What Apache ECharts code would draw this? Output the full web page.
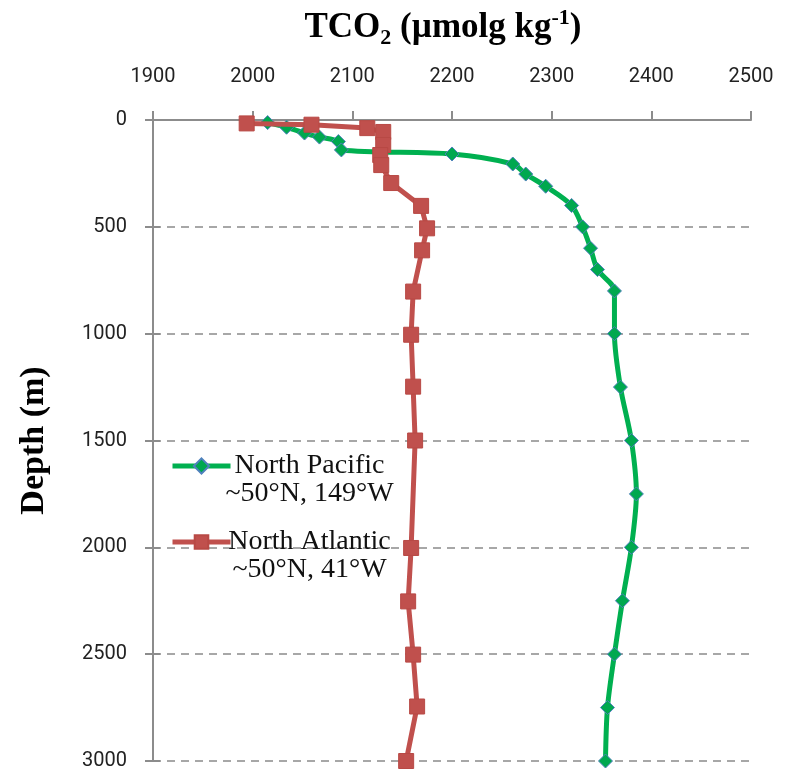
<!DOCTYPE html>
<html>
<head>
<meta charset="utf-8">
<script src="https://cdn.jsdelivr.net/npm/echarts@6/dist/echarts.min.js"></script>
<style>html,body{margin:0;padding:0;background:#fff}#c{width:794px;height:772px}</style>
</head>
<body>
<div id="c"></div>
<script>
const xTicks = [1900, 2000, 2100, 2200, 2300, 2400, 2500];
const yTicks = [0, 500, 1000, 1500, 2000, 2500, 3000];

const pacificName = 'North Pacific';
const pacificSub = '~50°N, 149°W';
const pacificDepth = [12, 34, 61, 80, 101, 140, 159, 206, 253, 310, 400, 500, 600, 700, 800, 1000, 1250, 1500, 1750, 2000, 2250, 2500, 2750, 3000];
const pacificTCO2  = [2015, 2034, 2052, 2067, 2086, 2089, 2200, 2261, 2274, 2294, 2320, 2331, 2339, 2346, 2363, 2363, 2369, 2380, 2385, 2380, 2371, 2363, 2356, 2354];

const atlanticName = 'North Atlantic';
const atlanticSub = '~50°N, 41°W';
const atlanticDepth = [16, 22, 38, 56, 117, 164, 211, 295, 402, 507, 610, 803, 1005, 1248, 1500, 2003, 2253, 2502, 2745, 3000];
const atlanticTCO2  = [1994, 2059, 2115, 2131, 2131, 2128, 2129, 2139, 2169, 2175, 2170, 2161, 2159, 2161, 2163, 2159, 2156, 2161, 2165, 2154];

const pacificData = pacificDepth.map((d, i) => [pacificTCO2[i], d]);
const atlanticData = atlanticDepth.map((d, i) => [atlanticTCO2[i], d]);

const labelFont = { fontFamily: 'Roboto', fontSize: 20, color: '#222', formatter: v => String(v) };
const axisGray = '#8c8c8c';

const legendRich = {
  e: { fontFamily: 'Liberation Serif', fontSize: 28, lineHeight: 28, width: 148, align: 'center', color: '#111' },
  a: { fontFamily: 'Liberation Serif', fontSize: 28, lineHeight: 28, width: 148, align: 'center', color: '#111' }
};
const legendFormatter = function (name) {
  const sub = name === pacificName ? pacificSub : atlanticSub;
  return '{e| }\n{a|' + name + '}\n{a|' + sub + '}';
};

const chart = echarts.init(document.getElementById('c'), null, { renderer: 'canvas' });
chart.setOption({
  animation: false,
  backgroundColor: '#fff',
  title: {
    text: '{a|TCO}{s|2}{a| (µmolg kg}{p|-1}{a|)}',
    left: 438, top: 2, textAlign: 'center',
    textStyle: {
      rich: {
        a: { fontFamily: 'Liberation Serif', fontWeight: 'bold', fontSize: 35, lineHeight: 42, color: '#000' },
        s: { fontFamily: 'Liberation Serif', fontWeight: 'bold', fontSize: 22, lineHeight: 22, verticalAlign: 'bottom', color: '#000' },
        p: { fontFamily: 'Liberation Serif', fontWeight: 'bold', fontSize: 22, lineHeight: 24, verticalAlign: 'top', color: '#000' }
      }
    }
  },
  grid: { left: 153, right: 43, top: 120, bottom: 11, containLabel: false },
  legend: [
    {
      data: [pacificName], orient: 'vertical', left: 170, top: 424, padding: 0,
      itemWidth: 58, itemHeight: 19, formatter: legendFormatter,
      lineStyle: { width: 5 },
      textStyle: { rich: legendRich }
    },
    {
      data: [atlanticName], orient: 'vertical', left: 170, top: 500, padding: 0,
      itemWidth: 58, itemHeight: 17, formatter: legendFormatter,
      lineStyle: { width: 5 },
      textStyle: { rich: legendRich }
    }
  ],
  xAxis: {
    type: 'value', position: 'top', min: xTicks[0], max: xTicks[xTicks.length - 1], interval: 100,
    axisLine: { show: true, lineStyle: { color: axisGray, width: 2 } },
    axisTick: { show: true, inside: false, length: 9, lineStyle: { color: axisGray, width: 2 } },
    axisLabel: Object.assign({ margin: 33 }, labelFont),
    splitLine: { show: false }
  },
  yAxis: [
    {
      type: 'value', inverse: true, min: yTicks[0], max: yTicks[yTicks.length - 1], interval: 500,
      name: 'Depth (m)', nameLocation: 'middle', nameGap: 102, nameRotate: 90,
      nameTextStyle: { fontFamily: 'Liberation Serif', fontWeight: 'bold', fontSize: 34, color: '#000' },
      axisLine: { show: true, lineStyle: { color: axisGray, width: 2 } },
      axisTick: { show: true, inside: false, length: 8, lineStyle: { color: axisGray, width: 2 } },
      axisLabel: Object.assign({ margin: 26, align: 'right' }, labelFont),
      splitLine: { show: true, lineStyle: { color: '#8a8a8a', width: 1.6, type: [8, 6] } }
    },
    {
      type: 'value', inverse: true, min: yTicks[0], max: yTicks[yTicks.length - 1], interval: 500,
      position: 'left', offset: 0,
      axisLine: { show: false },
      axisTick: { show: true, inside: true, length: 7, lineStyle: { color: axisGray, width: 2 } },
      axisLabel: { show: false },
      splitLine: { show: false }
    }
  ],
  series: [
    {
      name: pacificName, type: 'line', data: pacificData, yAxisIndex: 0,
      smooth: 0.3, symbol: 'diamond', symbolSize: 14, showSymbol: true,
      lineStyle: { color: '#00B050', width: 5 },
      itemStyle: { color: '#00A84F', borderColor: '#4F81BD', borderWidth: 1 },
      z: 3
    },
    {
      name: atlanticName, type: 'line', data: atlanticData, yAxisIndex: 0,
      smooth: false, symbol: 'rect', symbolSize: 15, showSymbol: true,
      lineStyle: { color: '#C0504D', width: 5 },
      itemStyle: { color: '#C0504D', borderColor: '#B84945', borderWidth: 1 },
      z: 4
    }
  ]
});
</script>
</body>
</html>
